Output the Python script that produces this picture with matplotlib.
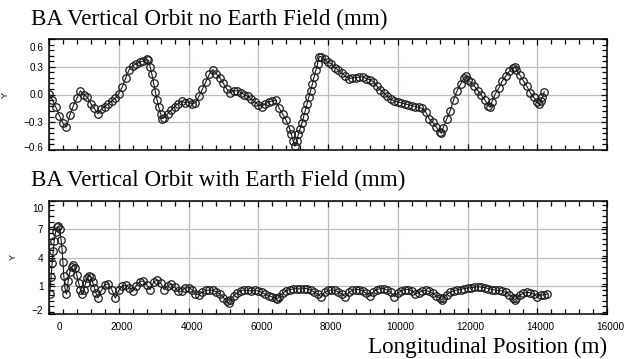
"""BA vertical orbit, with and without the Earth field — two stacked panels."""
import matplotlib
matplotlib.use("Agg")
import matplotlib.pyplot as plt
from matplotlib.ticker import MultipleLocator, FixedLocator
from matplotlib.transforms import ScaledTranslation

# ---- data (position in m, orbit in mm) ----
top_x = [0, 100, 200, 300, 400, 500, 600, 700, 800, 900, 1000, 1100, 1200, 1300, 1400,
         1500, 1600, 1700, 1800, 1900, 2000, 2100, 2200, 2300, 2400, 2500, 2600, 2700,
         2800, 2850, 2900, 2950, 3000, 3050, 3100, 3150, 3200, 3250, 3300, 3400, 3500,
         3600, 3700, 3800, 3900, 4000, 4100, 4200, 4300, 4400, 4500, 4600, 4700, 4800,
         4900, 5000, 5100, 5200, 5300, 5400, 5500, 5600, 5700, 5800, 5900, 6000, 6100,
         6200, 6300, 6400, 6500, 6600, 6700, 6800, 6900, 6950, 7000, 7050, 7100, 7150,
         7200, 7250, 7300, 7350, 7400, 7450, 7500, 7550, 7600, 7650, 7700, 7750, 7800,
         7900, 8000, 8100, 8200, 8300, 8400, 8500, 8600, 8700, 8800, 8900, 9000, 9100,
         9200, 9300, 9400, 9500, 9600, 9700, 9800, 9900, 10000, 10100, 10200, 10300,
         10400, 10500, 10600, 10700, 10800, 10900, 11000, 11100, 11200, 11250, 11300,
         11400, 11500, 11600, 11700, 11800, 11900, 11950, 12000, 12100, 12200, 12300,
         12400, 12500, 12600, 12650, 12700, 12800, 12900, 13000, 13100, 13200, 13300,
         13350, 13400, 13500, 13600, 13700, 13800, 13900, 14000, 14050, 14100, 14150, 14200]
top_y = [0.01, -0.06, -0.14, -0.23, -0.31, -0.35, -0.22, -0.12, -0.04, 0.04, 0.00, -0.03,
         -0.10, -0.15, -0.21, -0.16, -0.13, -0.10, -0.07, -0.04, 0.01, 0.08, 0.18, 0.27,
         0.31, 0.33, 0.35, 0.36, 0.38, 0.37, 0.30, 0.22, 0.12, 0.03, -0.06, -0.14, -0.21,
         -0.26, -0.25, -0.21, -0.17, -0.13, -0.10, -0.07, -0.09, -0.08, -0.10, -0.09,
         -0.02, 0.06, 0.14, 0.22, 0.27, 0.22, 0.18, 0.12, 0.06, 0.02, 0.04, 0.04, 0.02,
         0.00, -0.02, -0.05, -0.08, -0.11, -0.13, -0.10, -0.08, -0.07, -0.06, -0.15,
         -0.21, -0.28, -0.37, -0.43, -0.50, -0.56, -0.50, -0.43, -0.37, -0.31, -0.24,
         -0.17, -0.10, -0.03, 0.04, 0.11, 0.19, 0.26, 0.33, 0.41, 0.41, 0.38, 0.35, 0.33,
         0.29, 0.26, 0.23, 0.20, 0.17, 0.18, 0.18, 0.19, 0.19, 0.17, 0.16, 0.14, 0.09,
         0.05, 0.02, -0.02, -0.05, -0.07, -0.08, -0.09, -0.10, -0.11, -0.12, -0.13,
         -0.14, -0.15, -0.19, -0.26, -0.30, -0.35, -0.40, -0.42, -0.36, -0.27, -0.18,
         -0.06, 0.04, 0.11, 0.18, 0.20, 0.16, 0.13, 0.09, 0.04, -0.01, -0.06, -0.12,
         -0.14, -0.08, 0.01, 0.07, 0.15, 0.20, 0.25, 0.29, 0.30, 0.27, 0.21, 0.15, 0.09,
         0.02, -0.03, -0.08, -0.10, -0.07, -0.03, 0.03]

bot_x = [20, 60, 90, 120, 150, 190, 230, 270, 310, 345, 375, 400, 425, 455, 500, 550,
         600, 650, 700, 750, 800, 850, 900, 950, 1000, 1050, 1100, 1150, 1200, 1250,
         1300, 1350, 1400, 1500, 1600, 1700, 1800, 1900, 2000, 2100, 2200, 2300, 2400,
         2500, 2600, 2700, 2800, 2900, 3000, 3100, 3200, 3300, 3400, 3500, 3600, 3700,
         3800, 3900, 4000, 4100, 4200, 4300, 4400, 4500, 4600, 4700, 4800, 4900, 5000,
         5100, 5150, 5200, 5300, 5400, 5500, 5600, 5700, 5800, 5900, 6000, 6100, 6200,
         6300, 6400, 6500, 6550, 6600, 6700, 6800, 6900, 7000, 7100, 7200, 7300, 7400,
         7500, 7600, 7700, 7800, 7900, 8000, 8100, 8200, 8300, 8400, 8500, 8600, 8700,
         8800, 8900, 9000, 9100, 9200, 9300, 9400, 9500, 9600, 9700, 9800, 9900, 10000,
         10100, 10200, 10300, 10400, 10500, 10600, 10700, 10800, 10900, 11000, 11100,
         11200, 11270, 11300, 11400, 11500, 11600, 11700, 11800, 11900, 12000, 12100,
         12200, 12300, 12400, 12500, 12600, 12700, 12800, 12900, 13000, 13100, 13200,
         13300, 13360, 13400, 13500, 13600, 13700, 13800, 13900, 14000, 14100, 14200, 14270]
bot_y = [0.1, 1.9, 3.4, 4.7, 5.8, 6.7, 7.2, 7.3, 7.0, 5.9, 4.9, 3.5, 2.0, 0.8, 0.1, 1.5,
         2.5, 3.0, 3.2, 2.9, 2.1, 1.3, 0.6, 0.1, 0.6, 1.3, 1.8, 2.05, 1.9, 1.4, 0.8, 0.2,
         -0.3, 0.5, 1.1, 1.2, 0.6, -0.3, 0.5, 1.0, 1.05, 0.8, 0.4, 1.0, 1.45, 1.5, 1.1,
         0.6, 1.4, 1.6, 1.3, 0.6, 1.0, 1.15, 0.9, 0.4, 0.4, 0.75, 0.8, 0.6, 0.1, 0.05,
         0.35, 0.5, 0.55, 0.5, 0.35, 0.1, -0.25, -0.65, -0.85, -0.5, -0.05, 0.25, 0.45,
         0.55, 0.5, 0.45, 0.5, 0.45, 0.3, 0.1, -0.05, -0.2, -0.35, -0.4, -0.15, 0.2,
         0.45, 0.6, 0.65, 0.7, 0.65, 0.7, 0.7, 0.55, 0.35, 0.1, -0.15, 0.3, 0.5, 0.55,
         0.5, 0.35, 0.1, -0.15, 0.3, 0.5, 0.6, 0.6, 0.45, 0.2, -0.1, 0.35, 0.6, 0.7, 0.7,
         0.55, 0.3, -0.15, 0.2, 0.45, 0.6, 0.6, 0.45, 0.15, 0.25, 0.45, 0.5, 0.4, 0.2,
         -0.05, -0.3, -0.5, -0.3, 0.05, 0.3, 0.45, 0.55, 0.6, 0.7, 0.75, 0.8, 0.85, 0.9,
         0.85, 0.8, 0.7, 0.6, 0.55, 0.5, 0.45, 0.3, 0.05, -0.3, -0.5, -0.3, 0.0, 0.2,
         0.3, 0.25, 0.1, -0.15, 0.0, 0.05, 0.1]

titles = ["BA Vertical Orbit no Earth Field (mm)", "BA Vertical Orbit with Earth Field (mm)"]
top_ticks = [-0.6, -0.3, 0.0, 0.3, 0.6]
bot_ticks = [-2, 1, 4, 7, 10]
x_ticks = list(range(0, 16001, 2000))

W, H = 624, 359
SERIF = ["Liberation Serif", "DejaVu Serif"]
SANS = ["Liberation Sans", "DejaVu Sans"]
GRID = "#b9bdc8"

fig = plt.figure(figsize=(W / 100, H / 100), dpi=100)


def px_axes(l, t, r, b):
    return fig.add_axes([l / W, 1 - b / H, (r - l) / W, (b - t) / H])


def style(ax, xs, ys, yticks, ylim, minor_y):
    ax.plot(xs, ys, "-o", color="#1a1a1a", lw=0.8, ms=5.4, mfc="none", mec="#1a1a1a",
            mew=0.9, zorder=3)
    ax.set_xlim(0, 16000)
    ax.set_ylim(*ylim)
    ax.xaxis.set_major_locator(FixedLocator(x_ticks))
    ax.xaxis.set_minor_locator(MultipleLocator(400))
    ax.yaxis.set_major_locator(FixedLocator(yticks))
    ax.yaxis.set_minor_locator(MultipleLocator(minor_y))
    ax.grid(True, which="major", color=GRID, lw=0.9, zorder=0)
    ax.tick_params(which="both", direction="in", top=True, right=True, width=0.9,
                   labelsize=7.2, pad=4)
    ax.tick_params(which="major", length=4)
    ax.tick_params(which="minor", length=3.5)
    ax.tick_params(axis="x", pad=6)
    for s in ax.spines.values():
        s.set_linewidth(1.1)
    for lab in ax.get_xticklabels() + ax.get_yticklabels():
        lab.set_family(SANS)
    ax.set_ylabel("Y", fontsize=6.5, family=SANS, labelpad=10)


ax_top = px_axes(49, 39, 607, 150)
style(ax_top, top_x, top_y, top_ticks, (-0.6, 0.6), 0.06)
ax_top.set_yticklabels(["\u22120.6", "\u22120.3", "0.0", "0.3", "0.6"])
ax_top.tick_params(axis="x", labelbottom=False)

ax_bot = px_axes(49, 201, 607, 314)
style(ax_bot, bot_x, bot_y, bot_ticks, (-2, 10), 0.6)
ax_bot.set_yticklabels(["\u22122", "1", "4", "7", "10"])
ax_bot.set_xticklabels([str(v) for v in x_ticks])


# edge labels sit slightly inside, as in the original
def shift(label, dx, dy):
    label.set_transform(label.get_transform() + ScaledTranslation(dx / 100, dy / 100, fig.dpi_scale_trans))


for i, t in enumerate(ax_bot.xaxis.get_major_ticks()):
    shift(t.label1, 10 if i == 0 else 3, 0)
shift(ax_top.yaxis.get_major_ticks()[-1].label1, 0, -8)
shift(ax_top.yaxis.get_major_ticks()[0].label1, 0, 3)
shift(ax_bot.yaxis.get_major_ticks()[-1].label1, 0, -7)
shift(ax_bot.yaxis.get_major_ticks()[0].label1, 0, 4)

fig.text(31 / W, 1 - 25 / H, titles[0], family=SERIF, fontsize=16.6, ha="left", va="baseline")
fig.text(31 / W, 1 - 186 / H, titles[1], family=SERIF, fontsize=16.6, ha="left", va="baseline")
fig.text(607 / W, 1 - 353 / H, "Longitudinal Position (m)", family=SERIF, fontsize=16.6,
         ha="right", va="baseline")

fig.savefig("out.png", dpi=100)
